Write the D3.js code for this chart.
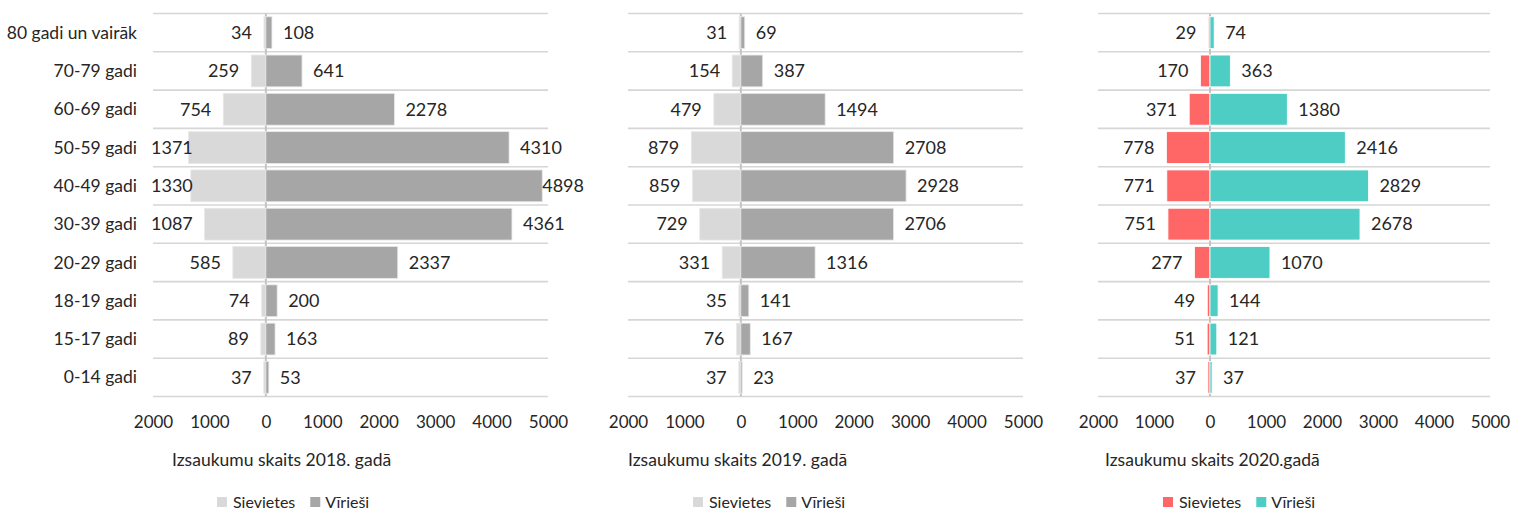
<!DOCTYPE html>
<html><head><meta charset="utf-8">
<script src="https://cdn.jsdelivr.net/npm/d3@7"></script>
<style>body{margin:0;background:#fff}svg{display:block}text{font-family:Lato,"Liberation Sans",sans-serif;fill:#262626}</style>
</head><body><svg id="c" width="1513" height="514"></svg>
<script>
const categories = ["80 gadi un vairāk","70-79 gadi","60-69 gadi","50-59 gadi","40-49 gadi","30-39 gadi","20-29 gadi","18-19 gadi","15-17 gadi","0-14 gadi"];
const tickValues = [-2000,-1000,0,1000,2000,3000,4000,5000];
const tickLabels = ["2000","1000","0","1000","2000","3000","4000","5000"];
const women2018 = [34,259,754,1371,1330,1087,585,74,89,37];
const men2018   = [108,641,2278,4310,4898,4361,2337,200,163,53];
const women2019 = [31,154,479,879,859,729,331,35,76,37];
const men2019   = [69,387,1494,2708,2928,2706,1316,141,167,23];
const women2020 = [29,170,371,778,771,751,277,49,51,37];
const men2020   = [74,363,1380,2416,2829,2678,1070,144,121,37];
const titles = ["Izsaukumu skaits 2018. gadā","Izsaukumu skaits 2019. gadā","Izsaukumu skaits 2020.gadā"];
const legendNames = ["Sievietes","Vīrieši"];

const panels = [
  {w:women2018,m:men2018,x0:153,x1:548,title:titles[0],tx:172,lx:217,cf:"#d9d9d9",cm:"#a6a6a6",edge:"#e8e8e8"},
  {w:women2019,m:men2019,x0:628,x1:1023,title:titles[1],tx:628,lx:693,cf:"#d9d9d9",cm:"#a6a6a6",edge:"#e8e8e8"},
  {w:women2020,m:men2020,x0:1098,x1:1490,title:titles[2],tx:1105,lx:1163,cf:"#ff6666",cm:"#4ecdc4",edge:"#ffffff"}
];
const svg = d3.select("#c");
const y = d3.scaleBand().domain(categories).range([13.5,396.5]).paddingInner(0.17).paddingOuter(0.085);
const yGrid = d3.scaleBand().domain(categories).range([13.5,396.5]);

svg.append("g").selectAll("text").data(categories).join("text")
  .attr("x",137).attr("y",d=>yGrid(d)+yGrid.bandwidth()/2).attr("dy","0.35em")
  .attr("text-anchor","end").style("font-size","17.5px").text(d=>d);

panels.forEach(p=>{
  const x = d3.scaleLinear().domain([-2000,5000]).range([p.x0,p.x1]);
  const g = svg.append("g");
  const lines = categories.map(c=>yGrid(c)).concat([yGrid.range()[1]]);
  g.selectAll("line.grid").data(lines).join("line").attr("class","grid")
    .attr("x1",p.x0).attr("x2",p.x1).attr("y1",d=>d).attr("y2",d=>d)
    .attr("stroke","#d6d6d6").attr("stroke-width",1.6);
  g.append("line").attr("x1",x(0)).attr("x2",x(0)).attr("y1",13.5).attr("y2",396.5)
    .attr("stroke","#c4c4c4").attr("stroke-width",2);
  g.selectAll("rect.f").data(p.w).join("rect").attr("class","f")
    .attr("x",d=>x(-d)).attr("width",d=>x(0)-x(-d))
    .attr("y",(d,i)=>y(categories[i])).attr("height",y.bandwidth())
    .attr("fill",p.cf).attr("stroke",p.edge).attr("stroke-width",0.8);
  g.selectAll("rect.m").data(p.m).join("rect").attr("class","m")
    .attr("x",x(0)).attr("width",d=>x(d)-x(0))
    .attr("y",(d,i)=>y(categories[i])).attr("height",y.bandwidth())
    .attr("fill",p.cm).attr("stroke",p.edge).attr("stroke-width",0.8);
  const fl = g.selectAll("text.fl").data(p.w).join("text").attr("class","fl")
    .attr("y",(d,i)=>yGrid(categories[i])+yGrid.bandwidth()/2).attr("dy","0.35em")
    .attr("text-anchor","start").style("font-size","18px").text(d=>d);
  fl.each(function(d){
    const w = this.getComputedTextLength();
    let left = x(-d)-12-w;
    if(left < p.x0-2) { left = p.x0-2; }
    d3.select(this).attr("x",left);
  });
  const ml = g.selectAll("text.ml").data(p.m).join("text").attr("class","ml")
    .attr("y",(d,i)=>yGrid(categories[i])+yGrid.bandwidth()/2).attr("dy","0.35em")
    .attr("text-anchor","start").style("font-size","18px").text(d=>d);
  ml.each(function(d){
    const w = this.getComputedTextLength();
    let left = x(d)+11;
    if(left+w > p.x1+36) left = p.x1+36-w;
    d3.select(this).attr("x",left);
  });
  const axis = d3.axisBottom(x).tickValues(tickValues).tickFormat((d,i)=>tickLabels[i]).tickSize(0).tickPadding(0);
  const ag = g.append("g").attr("transform","translate(0,422)").call(axis);
  ag.select(".domain").remove();
  ag.selectAll("text").attr("dy","0.35em").attr("y",0).style("font-size","17px").style("fill","#262626").style("font-family","Lato,sans-serif");
  g.append("text").attr("x",p.tx).attr("y",460).attr("dy","0.35em").style("font-size","17.5px").text(p.title);
  const lg = g.append("g").attr("transform",`translate(${p.lx},502)`);
  lg.append("rect").attr("x",0).attr("y",-5).attr("width",10).attr("height",10).attr("fill",p.cf);
  const t1 = lg.append("text").attr("x",16).attr("dy","0.35em").style("font-size","16px").text(legendNames[0]);
  const w1 = t1.node().getComputedTextLength();
  lg.append("rect").attr("x",16+w1+15).attr("y",-5).attr("width",10).attr("height",10).attr("fill",p.cm);
  lg.append("text").attr("x",16+w1+30).attr("dy","0.35em").style("font-size","16px").text(legendNames[1]);
});
</script></body></html>
